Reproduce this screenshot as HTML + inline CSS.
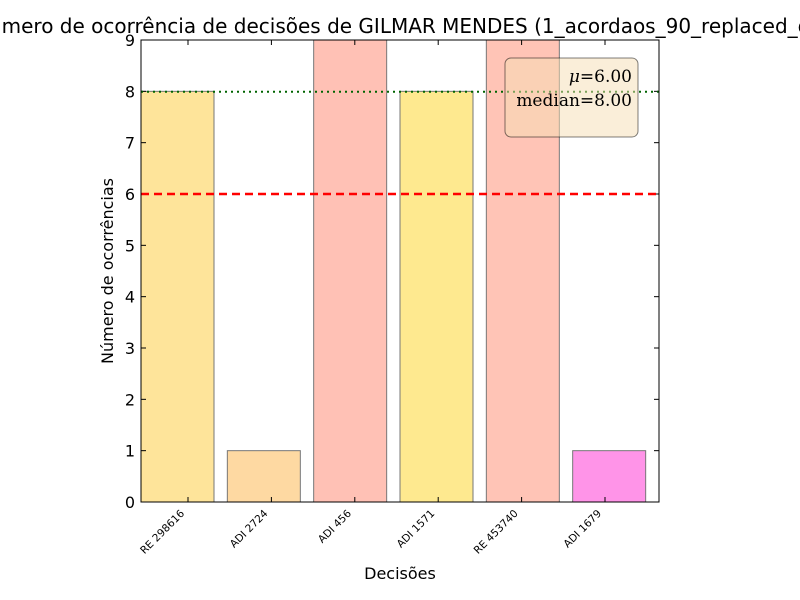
<!DOCTYPE html>
<html><head><meta charset="utf-8"><style>body{margin:0;background:#fff}svg{display:block;font-family:"DejaVu Sans","Liberation Sans",sans-serif}</style></head>
<body>
<svg id="chart" width="800" height="600" viewBox="0 0 800 600" xmlns="http://www.w3.org/2000/svg">
<rect width="800" height="600" fill="#fff"/>
<text x="-26" y="33" font-size="20">Número de ocorrência de decisões de GILMAR MENDES (1_acordaos_90_replaced_dict)</text>
<g id="bars"></g>
<g id="yticks"></g>
<g id="xticks"></g>
<line x1="141" x2="659" y1="194" y2="194" stroke="#ff0000" stroke-width="2.5" stroke-dasharray="8,5"/>
<line x1="141" x2="659" y1="91.7" y2="91.7" stroke="#006400" stroke-width="2" stroke-dasharray="2,4"/>
<rect x="141" y="40" width="518" height="462" fill="none" stroke="#000" stroke-width="1"/>
<g>
<rect x="505" y="58" width="133" height="79" rx="6" fill="#f5deb3" fill-opacity="0.5" stroke="#000" stroke-opacity="0.5"/>
<text x="632" y="82" text-anchor="end" font-family="'DejaVu Serif','Liberation Serif',serif" font-size="17"><tspan font-style="italic">μ</tspan>=6.00</text>
<text x="632" y="106" text-anchor="end" font-family="'DejaVu Serif','Liberation Serif',serif" font-size="17">median=8.00</text>
</g>
<text x="400" y="579" text-anchor="middle" font-size="16">Decisões</text>
<text transform="translate(113,271) rotate(-90)" text-anchor="middle" font-size="16">Número de ocorrências</text>
</svg>
<script>
const categories = ["RE 298616","ADI 2724","ADI 456","ADI 1571","RE 453740","ADI 1679"];
const values = [8,1,9,8,9,1];
const colors = ["#fee49a","#fed9a2","#ffc1b5","#fee98f","#ffc4b6","#ff94e8"];
const yTicks = [0,1,2,3,4,5,6,7,8,9];
const NS="http://www.w3.org/2000/svg";
const x0=141,x1=659,y0=502,y1=40,ymax=9;
const ys=v=>y0-(v/ymax)*(y0-y1);
const slot=(x1-x0)/6;
const barX=i=>x0+i*slot;
const tickX=i=>188+i*83.4;
const bg=document.getElementById('bars');
values.forEach((v,i)=>{const r=document.createElementNS(NS,'rect');
r.setAttribute('x',barX(i));r.setAttribute('width',73);r.setAttribute('y',ys(v));r.setAttribute('height',y0-ys(v));
r.setAttribute('fill',colors[i]);r.setAttribute('stroke','#777');r.setAttribute('stroke-width','1');


bg.appendChild(r);});
const yg=document.getElementById('yticks');
yTicks.forEach(t=>{const y=ys(t);
[[x0,x0+5],[x1-5,x1]].forEach(([a,b])=>{const l=document.createElementNS(NS,'line');l.setAttribute('x1',a);l.setAttribute('x2',b);l.setAttribute('y1',y);l.setAttribute('y2',y);l.setAttribute('stroke','#000');yg.appendChild(l);});
const tx=document.createElementNS(NS,'text');tx.setAttribute('x',x0-6);tx.setAttribute('y',y+6);tx.setAttribute('text-anchor','end');tx.setAttribute('font-size','16');tx.textContent=t;


yg.appendChild(tx);});
const xg=document.getElementById('xticks');
categories.forEach((c,i)=>{const x=tickX(i);
[[y0,y0-5],[y1,y1+5]].forEach(([a,b])=>{const l=document.createElementNS(NS,'line');l.setAttribute('x1',x);l.setAttribute('x2',x);l.setAttribute('y1',a);l.setAttribute('y2',b);l.setAttribute('stroke','#000');xg.appendChild(l);});
const tx=document.createElementNS(NS,'text');tx.setAttribute('transform',`translate(${x-3},${y0+12}) rotate(-45)`);tx.setAttribute('text-anchor','end');tx.setAttribute('font-size','10.5');tx.textContent=c;


xg.appendChild(tx);});
</script>
</body></html>
